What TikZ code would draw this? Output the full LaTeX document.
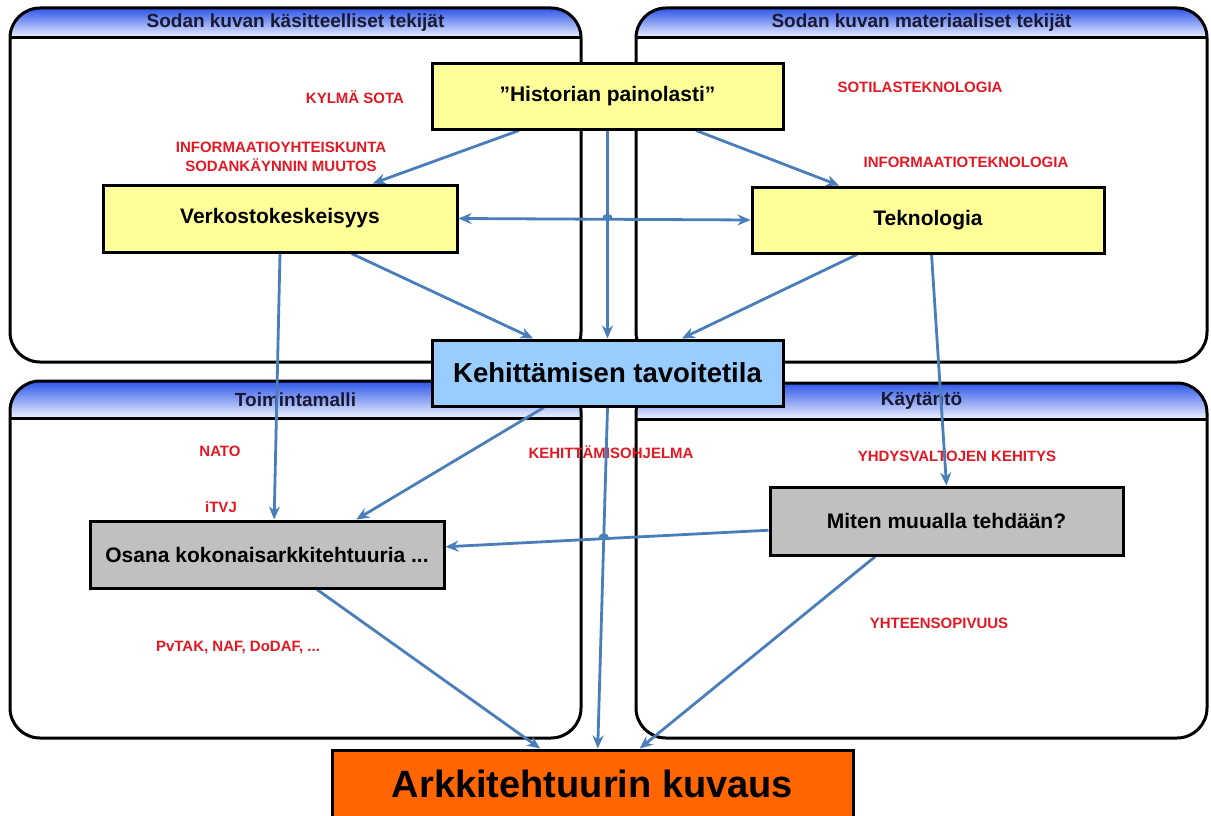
\documentclass[tikz,border=0pt]{standalone}
\usepackage{fontspec}
\setmainfont{Liberation Sans}
\usetikzlibrary{arrows.meta,calc,intersections}

\definecolor{connblue}{RGB}{74,126,187}
\definecolor{hdrblue}{RGB}{45,85,232}
\definecolor{hdrpale}{RGB}{238,242,255}
\definecolor{hdrtext}{RGB}{25,25,50}
\definecolor{lblred}{RGB}{228,24,34}
\definecolor{boxyellow}{RGB}{255,255,153}
\definecolor{boxblue}{RGB}{153,204,255}
\definecolor{boxgray}{RGB}{192,192,192}
\definecolor{boxorange}{RGB}{255,102,0}

\tikzset{
  panelline/.style={line width=3pt, draw=black},
  hdr/.style={font=\fontsize{19}{22}\selectfont\bfseries, text=hdrtext},
  box/.style={draw=black, line width=3pt, inner sep=0pt,
    font=\fontsize{21}{24}\selectfont\bfseries},
  bigbox/.style={box, font=\fontsize{27.5}{30}\selectfont\bfseries},
  hugebox/.style={box, font=\fontsize{38}{42}\selectfont\bfseries},
  lbl/.style={text=lblred, font=\fontsize{15}{19}\selectfont\bfseries, align=center},
  tip/.tip={Stealth[length=13pt,width=11pt]},
  conn/.style={draw=connblue, line width=2.8pt, -tip},
  conntwo/.style={draw=connblue, line width=2.8pt, tip-tip},
  bump/.style={draw=connblue, line width=2.8pt},
}

% panel with a shaded title band: x1 y1 x2 y2 band-bottom title node-name
\newcommand\drawpanel[7]{%
  \begin{scope}
    \clip[rounded corners=30] (#1,#2) rectangle (#3,#4);
    \shade[top color=hdrblue, bottom color=hdrpale] (#1,#2) rectangle (#3,#5);
  \end{scope}
  \draw[panelline] (#1,#5) -- (#3,#5);
  \draw[panelline, rounded corners=30] (#1,#2) rectangle (#3,#4);
  \node[hdr] (#7) at ({(#1+#3)/2},{(#2+#5)/2}) {#6};
}

\begin{document}
\begin{tikzpicture}[x=1pt, y=-1pt]
\useasboundingbox (0,0) rectangle (1211,816);

% four panels
\drawpanel{10}{8}{581}{362}{38}{Sodan kuvan käsitteelliset tekijät}{tlhead}
\drawpanel{636}{8}{1207}{362}{38}{Sodan kuvan materiaaliset tekijät}{trhead}
\drawpanel{10}{381}{581}{738}{418}{Toimintamalli}{blhead}
\drawpanel{636}{383}{1207}{738}{419}{Käytäntö}{brhead}

% red labels
\node[lbl] (kylma) at (355,97) {KYLMÄ SOTA};
\node[lbl] (infoyht) at (281,157) {INFORMAATIOYHTEISKUNTA\\SODANKÄYNNIN MUUTOS};
\node[lbl] (sotilas) at (920,87) {SOTILASTEKNOLOGIA};
\node[lbl] (infotek) at (966,162) {INFORMAATIOTEKNOLOGIA};
\node[lbl] (nato) at (220,451) {NATO};
\node[lbl] (itvj) at (221,507) {iTVJ};
\node[lbl] (kehohj) at (611,452) {KEHITTÄMISOHJELMA};
\node[lbl] (yhdys) at (957,456) {YHDYSVALTOJEN KEHITYS};
\node[lbl] (pvtak) at (238,647) {PvTAK, NAF, DoDAF, ...};
\node[lbl] (yhteen) at (939,623) {YHTEENSOPIVUUS};

% boxes (placed before the connectors so their anchors exist)
\path
  node[box, fill=boxyellow, minimum width=351, minimum height=65] (hist) at (607.5,96.5) {”Historian painolasti”}
  node[box, fill=boxyellow, minimum width=354, minimum height=67] (verk) at (280,218.5) {Verkostokeskeisyys}
  node[box, fill=boxyellow, minimum width=352, minimum height=66] (tek) at (928,220) {Teknologia}
  node[bigbox, fill=boxblue, minimum width=351, minimum height=66] (kehit) at (607.5,373) {Kehittämisen tavoitetila}
  node[box, fill=boxgray, minimum width=354, minimum height=67] (osana) at (267,554.5) {Osana kokonaisarkkitehtuuria ...}
  node[box, fill=boxgray, minimum width=353, minimum height=68] (miten) at (946.5,521) {Miten muualla tehdään?}
  node[hugebox, fill=boxorange, minimum width=521, minimum height=68] (ark) at (592.5,784) {Arkkitehtuurin kuvaus};

% connectors
\draw[conn] ($(hist.south west)!0.25!(hist.south east)$) -- ($(verk.north west)!0.76!(verk.north east)$);
\draw[conn] ($(hist.south west)!0.75!(hist.south east)$) -- ($(tek.north west)!0.25!(tek.north east)$);
\draw[conn, name path=histdown] (hist.south) -- (kehit.north);
\draw[conntwo, name path=verktek] (verk.east) -- (tek.west);
\draw[conn] ($(verk.south west)!0.70!(verk.south east)$) -- ($(kehit.north west)!0.29!(kehit.north east)$);
\draw[conn] ($(tek.south west)!0.30!(tek.south east)$) -- ($(kehit.north west)!0.71!(kehit.north east)$);
\draw[conn] (verk.south) -- ($(osana.north west)!0.52!(osana.north east)$);
\draw[conn] ($(tek.south west)!0.51!(tek.south east)$) -- (miten.north);
\draw[conn] ($(kehit.south west)!0.32!(kehit.south east)$) -- ($(osana.north west)!0.75!(osana.north east)$);
\draw[conn, name path=kehitdown] (kehit.south) -- ($(ark.north west)!0.51!(ark.north east)$);
\draw[conn, name path=mitenosana] ($(miten.north west)!0.63!(miten.south west)$) -- ($(osana.north east)!0.39!(osana.south east)$);
\draw[conn] ($(osana.south west)!0.64!(osana.south east)$) -- ($(ark.north west)!0.40!(ark.north east)$);
\draw[conn] ($(miten.south west)!0.30!(miten.south east)$) -- ($(ark.north west)!0.59!(ark.north east)$);

% small hops where lines cross
\path[name intersections={of=histdown and verktek, by=hopa}];
\path[name intersections={of=kehitdown and mitenosana, by=hopb}];
\draw[bump] ($(hopa)+(-4,0)$) arc[start angle=180, end angle=360, radius=4];
\draw[bump] ($(hopb)+(-4,0)$) arc[start angle=180, end angle=360, radius=4];

% boxes redrawn on top of the connector ends
\path
  node[box, fill=boxyellow, minimum width=351, minimum height=65] at (hist) {”Historian painolasti”}
  node[box, fill=boxyellow, minimum width=354, minimum height=67] at (verk) {Verkostokeskeisyys}
  node[box, fill=boxyellow, minimum width=352, minimum height=66] at (tek) {Teknologia}
  node[bigbox, fill=boxblue, minimum width=351, minimum height=66] at (kehit) {Kehittämisen tavoitetila}
  node[box, fill=boxgray, minimum width=354, minimum height=67] at (osana) {Osana kokonaisarkkitehtuuria ...}
  node[box, fill=boxgray, minimum width=353, minimum height=68] at (miten) {Miten muualla tehdään?}
  node[hugebox, fill=boxorange, minimum width=521, minimum height=68] at (ark) {Arkkitehtuurin kuvaus};
\end{tikzpicture}
\end{document}
